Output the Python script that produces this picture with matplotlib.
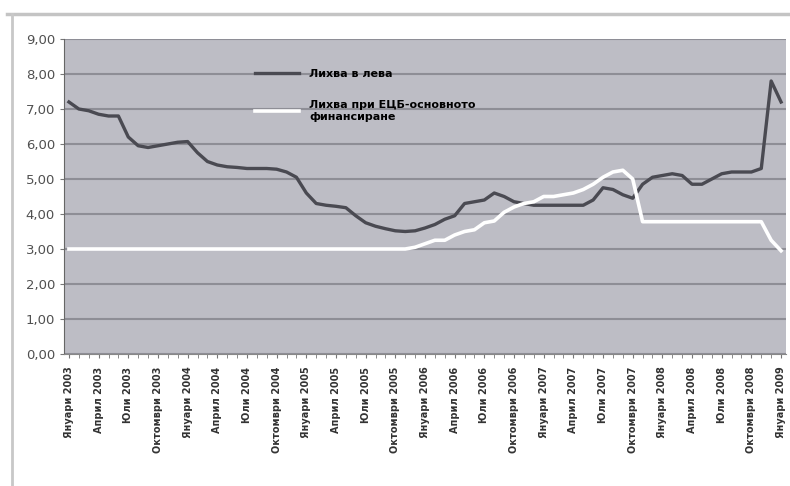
import numpy as np
import matplotlib
matplotlib.use("Agg")
import matplotlib.pyplot as plt

# monthly values, Jan 2003 .. Jan 2009
lev = [7.20, 7.00, 6.95, 6.85, 6.80, 6.80, 6.20, 5.95, 5.90, 5.95, 6.00, 6.05,
       6.07, 5.75, 5.50, 5.40, 5.35, 5.33, 5.30, 5.30, 5.30, 5.28, 5.20, 5.05,
       4.60, 4.30, 4.25, 4.22, 4.18, 3.95, 3.75, 3.65, 3.58, 3.52, 3.50, 3.52,
       3.60, 3.70, 3.85, 3.95, 4.30, 4.35, 4.40, 4.60, 4.50, 4.35, 4.30, 4.25,
       4.25, 4.25, 4.25, 4.25, 4.25, 4.40, 4.75, 4.70, 4.55, 4.45, 4.85, 5.05,
       5.10, 5.15, 5.10, 4.85, 4.85, 5.00, 5.15, 5.20, 5.20, 5.20, 5.30, 7.80,
       7.20]
ecb = [3.00] * 35 + [3.05, 3.15, 3.25, 3.25, 3.40, 3.50, 3.55, 3.75, 3.80,
       4.05, 4.20, 4.30, 4.35, 4.50, 4.50, 4.55, 4.60, 4.70, 4.85, 5.05, 5.20,
       5.25, 5.00] + [3.78] * 13 + [3.25, 2.95]

months = ["Януари", "Април", "Юли", "Октомври"]
years = list(range(2003, 2010))
xlabels = [f"{months[q]} {y}" for y in years for q in range(4)][:25]

plt.rcParams["font.family"] = ["DejaVu Sans"]

fig = plt.figure(figsize=(7.9, 4.86), dpi=100)
fig.patch.set_facecolor("white")
# outer chart frame
fig.add_artist(plt.Line2D([7 / 790, 788 / 790], [1 - 14 / 486] * 2, color="#c4c4c4", lw=2.5))
fig.add_artist(plt.Line2D([12 / 790] * 2, [0, 1 - 14 / 486], color="#c8c8c8", lw=2))

ax = fig.add_axes([64 / 790, 1 - 354 / 486, 722 / 790, 315 / 486])
ax.set_facecolor("#bdbdc5")

x = np.arange(len(lev))
ax.plot(x, lev, color="#4a4a52", lw=2.4, label="Лихва в лева", zorder=3)
ax.plot(x, ecb, color="white", lw=2.6, label="Лихва при ЕЦБ-основното\nфинансиране", zorder=3)

ax.set_ylim(0, 9)
ax.set_yticks(np.arange(0, 10))
ax.set_yticklabels([f"{v:.2f}".replace(".", ",") for v in range(10)],
                   fontsize=9.5, color="#505050")
ax.yaxis.grid(True, color="#8e8e96", lw=1.5)
ax.set_axisbelow(True)

ax.set_xlim(-0.5, len(lev) - 0.5)
ax.set_xticks(x[::3])
ax.set_xticklabels(xlabels, rotation=90, fontsize=7, fontweight="bold", color="#333333")
ax.set_xticks(x, minor=True)
ax.tick_params(axis="x", which="both", length=3, color="#777777")
ax.tick_params(axis="x", which="major", pad=6)
ax.tick_params(axis="y", length=3, color="#777777")

for s in ["top", "right"]:
    ax.spines[s].set_visible(False)
ax.spines["left"].set_color("#666666")
ax.spines["bottom"].set_color("#888888")

ax.legend(loc="upper left", bbox_to_anchor=(0.25, 0.937), frameon=False,
          prop={"weight": "bold", "size": 8},
          handlelength=4.0, handletextpad=0.9, labelspacing=1.9)

fig.savefig("out.png", dpi=100)
